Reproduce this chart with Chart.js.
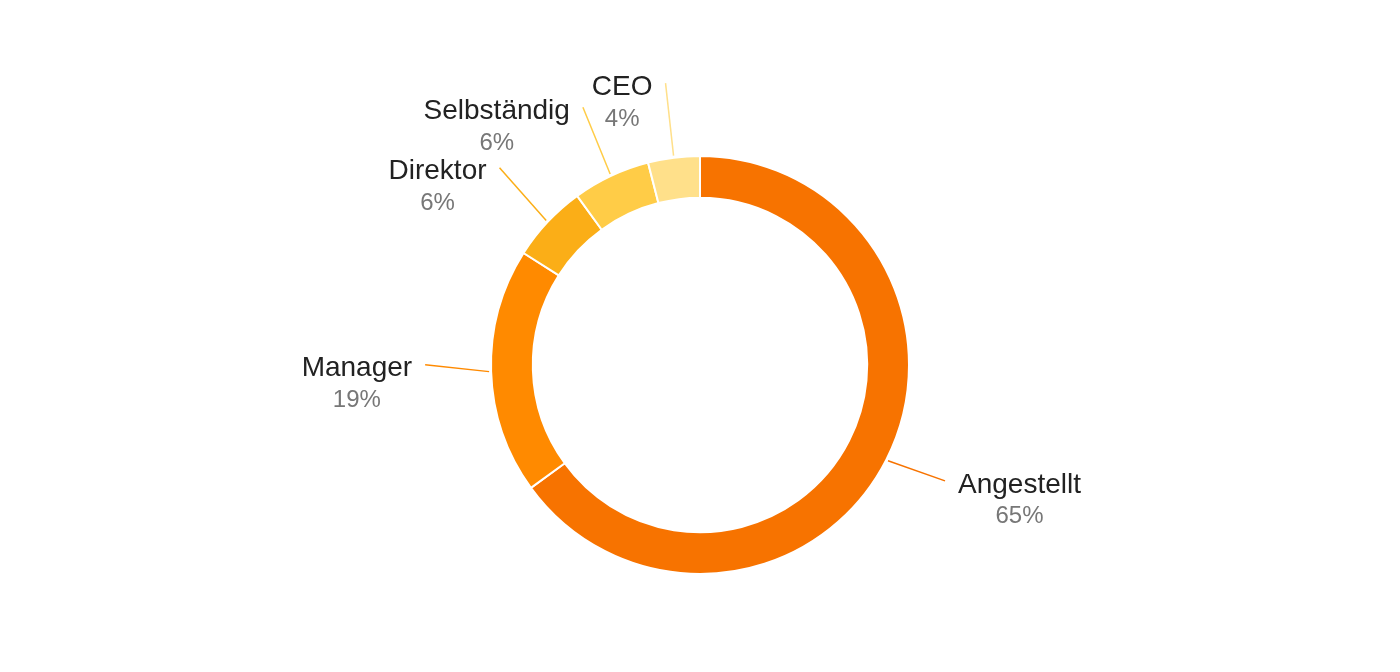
<!DOCTYPE html>
<html lang="de">
<head>
  <meta charset="UTF-8" />
  <title>Position</title>
  <script src="https://cdn.jsdelivr.net/npm/chart.js"></script>
  <style>
    html, body { margin: 0; padding: 0; background: #fff; }
    #wrap { width: 1400px; height: 672px; }
  </style>
</head>
<body>
<div id="wrap"><canvas id="pie" width="1400" height="672"></canvas></div>
<script>
  const labels = ['Angestellt', 'Manager', 'Direktor', 'Selbständig', 'CEO'];
  const values = [65, 19, 6, 6, 4];
  const colors = ['#F77300', '#FF8A00', '#FBAE17', '#FFCC47', '#FFE08A'];

  // leader lines + two-line labels outside the ring
  const outsideLabels = {
    id: 'outsideLabels',
    afterDraw(chart) {
      const ctx = chart.ctx;
      const meta = chart.getDatasetMeta(0);
      meta.data.forEach((arc, i) => {
        const mid = (arc.startAngle + arc.endAngle) / 2;
        const cx = arc.x, cy = arc.y;
        const r1 = arc.outerRadius + 2;
        const r2 = arc.outerRadius + 66;
        const x1 = cx + Math.cos(mid) * r1, y1 = cy + Math.sin(mid) * r1;
        const x2 = cx + Math.cos(mid) * r2, y2 = cy + Math.sin(mid) * r2 - 9;
        ctx.save();
        ctx.strokeStyle = colors[i];
        ctx.lineWidth = 1.5;
        ctx.beginPath();
        ctx.moveTo(x1, y1);
        ctx.lineTo(x2, y2);
        ctx.stroke();

        const right = Math.cos(mid) >= 0;
        ctx.font = '28px "Liberation Sans", Arial, sans-serif';
        const w = ctx.measureText(labels[i]).width;
        const left = right ? x2 + 13 : x2 - 13 - w;
        const centerX = left + w / 2;
        ctx.textAlign = 'center';
        ctx.textBaseline = 'middle';
        ctx.fillStyle = '#222';
        ctx.fillText(labels[i], centerX, y2 + 4);
        ctx.font = '24px "Liberation Sans", Arial, sans-serif';
        ctx.fillStyle = '#777';
        ctx.fillText(values[i] + '%', centerX, y2 + 36);
        ctx.restore();
      });
    }
  };

  new Chart(document.getElementById('pie').getContext('2d'), {
    type: 'doughnut',
    data: {
      labels,
      datasets: [{
        data: values,
        backgroundColor: colors,
        borderColor: '#fff',
        borderWidth: 2
      }]
    },
    options: {
      responsive: false,
      animation: false,
      cutout: '80%',
      layout: { padding: { top: 155, bottom: 97 } },
      plugins: {
        legend: { display: false },
        tooltip: { enabled: false }
      }
    },
    plugins: [outsideLabels]
  });
</script>
</body>
</html>
